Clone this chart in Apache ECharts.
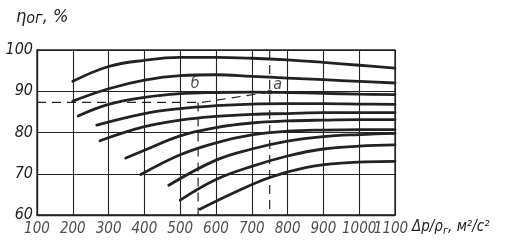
<!DOCTYPE html>
<html>
<head>
<meta charset="utf-8">
<script src="https://cdn.jsdelivr.net/npm/echarts@6/dist/echarts.min.js"></script>
<style>
html,body{margin:0;padding:0;background:#fff;}
#c{width:524px;height:250px;}
</style>
</head>
<body>
<div id="c"></div>
<script>
// x: Δp/ρг, м²/с²  ; y: ηог, %
const xTicks = [100, 200, 300, 400, 500, 600, 700, 800, 900, 1000, 1100];
const yTicks = [60, 70, 80, 90, 100];

const curve1 = [[200,92.4],[300,96.0],[400,97.5],[500,98.2],[600,98.2],[700,98.0],[800,97.6],[900,97.0],[1000,96.3],[1100,95.6]];
const curve2 = [[200,87.6],[300,90.6],[400,92.7],[500,93.8],[600,94.0],[700,93.6],[800,93.2],[900,92.8],[1000,92.4],[1100,92.0]];
const curve3 = [[215,84.0],[300,86.8],[400,88.5],[500,89.4],[600,89.7],[700,89.8],[800,89.7],[900,89.5],[1000,89.3],[1100,89.2]];
const curve4 = [[267,81.8],[400,84.6],[500,85.8],[600,86.5],[700,86.9],[800,87.0],[900,87.0],[1000,86.9],[1100,86.8]];
const curve5 = [[276,78.0],[400,81.4],[500,83.0],[600,83.9],[700,84.4],[800,84.6],[900,84.8],[1000,84.8],[1100,84.8]];
const curve6 = [[348,73.8],[400,75.7],[500,79.2],[600,81.2],[700,82.3],[800,82.8],[900,83.0],[1000,83.1],[1100,83.1]];
const curve7 = [[390,69.8],[500,74.6],[600,77.5],[700,79.4],[800,80.3],[900,80.6],[1000,80.7],[1100,80.7]];
const curve8 = [[468,67.2],[600,73.3],[700,76.0],[800,77.9],[900,79.0],[1000,79.5],[1100,79.8]];
const curve9 = [[500,63.6],[600,68.6],[700,71.8],[800,74.3],[900,76.0],[1000,76.7],[1100,77.0]];
const curve10 = [[555,61.4],[650,65.4],[750,69.1],[850,71.5],[950,72.6],[1100,73.0]];

const dashedGuide = [[100,87.3],[560,87.3],[750,89.8]];
const vertical550 = [[550,87.3],[550,60]];
const vertical750 = [[750,100],[750,60]];
const pointB = [550, 87.3];
const pointA = [750, 89.8];
const pointLabels = ['б', 'a'];

const curves = [curve1,curve2,curve3,curve4,curve5,curve6,curve7,curve8,curve9,curve10];
const ink = '#222222';
const fontFam = "'Liberation Sans Narrow','DejaVu Sans Condensed','Liberation Sans',sans-serif";

const chart = echarts.init(document.getElementById('c'), null, {renderer:'canvas'});

const series = curves.map(c => ({
  type:'line', data:c, smooth:0.4, showSymbol:false, silent:true,
  lineStyle:{color:ink, width:2.8, cap:'round'}, z:3
}));

const dashStyle = {color:ink, width:1.2, type:[9,6]};
series.push({type:'line', data:dashedGuide, showSymbol:false, silent:true, lineStyle:dashStyle, z:2});
series.push({type:'line', data:vertical550, showSymbol:false, silent:true, lineStyle:dashStyle, z:2});
series.push({type:'line', data:vertical750, showSymbol:false, silent:true, lineStyle:dashStyle, z:2});
series.push({
  type:'scatter', silent:true, z:4,
  data:[
    {value:pointB, name:pointLabels[0], symbolSize:0, label:{offset:[-3,-19]}},
    {value:pointA, name:pointLabels[1], symbolSize:5, label:{offset:[8,-7]}}
  ],
  itemStyle:{color:ink},
  label:{show:true, formatter:p=>p.name, color:ink, fontSize:16, fontStyle:'italic', fontFamily:fontFam, position:'inside'}
});
// x tick labels placed through the x scale
const lastTick = xTicks[xTicks.length-1];
series.push({
  type:'scatter', silent:true, z:4, symbolSize:0, clip:false,
  data:xTicks.map(v => [v, yTicks[0]]),
  label:{show:true, position:'bottom', distance:7,
    formatter:p => p.value[0] === lastTick ? '{r|' + p.value[0] + '}' : '{n|' + p.value[0] + '}',
    rich:{
      n:{color:ink, fontSize:15, fontStyle:'italic', fontFamily:fontFam},
      r:{color:ink, fontSize:15, fontStyle:'italic', fontFamily:fontFam, padding:[0,8,0,0]}
    }},
  labelLayout:{hideOverlap:false}
});

chart.setOption({
  animation:false,
  backgroundColor:'#ffffff',
  grid:{left:37, right:129, top:50, bottom:35, show:true, borderColor:ink, borderWidth:1.3},
  xAxis:{
    type:'value', min:xTicks[0], max:lastTick, interval:100,
    axisLine:{show:true, onZero:false, lineStyle:{color:ink, width:1.3}},
    axisTick:{show:false},
    splitLine:{show:true, lineStyle:{color:ink, width:1.1}},
    axisLabel:{show:false}
  },
  yAxis:{
    type:'value', min:yTicks[0], max:yTicks[yTicks.length-1], interval:10,
    axisLine:{show:true, lineStyle:{color:ink, width:1.3}},
    axisTick:{show:false},
    splitLine:{show:true, lineStyle:{color:ink, width:1.1}},
    axisLabel:{color:ink, fontSize:16, fontStyle:'italic', fontFamily:fontFam, margin:4,
      showMinLabel:true, showMaxLabel:true,
      formatter:v=>String(Math.round(v))}
  },
  graphic:[
    {type:'text', left:16, top:8, style:{
      text:'{a|η}{b|ог}{a|, %}',
      rich:{
        a:{fontSize:18, fontStyle:'italic', fontFamily:fontFam, fill:ink},
        b:{fontSize:16, fontStyle:'italic', fontFamily:fontFam, fill:ink, padding:[4,0,0,0]}
      }
    }},
    {type:'text', left:412, top:220, style:{
      text:'{a|Δp/ρ}{b|г}{a|, м²/с²}',
      rich:{
        a:{fontSize:15, fontStyle:'italic', fontFamily:fontFam, fill:ink},
        b:{fontSize:11, fontStyle:'italic', fontFamily:fontFam, fill:ink, padding:[7,0,0,0]}
      }
    }}
  ],
  series:series
});
</script>
</body>
</html>
